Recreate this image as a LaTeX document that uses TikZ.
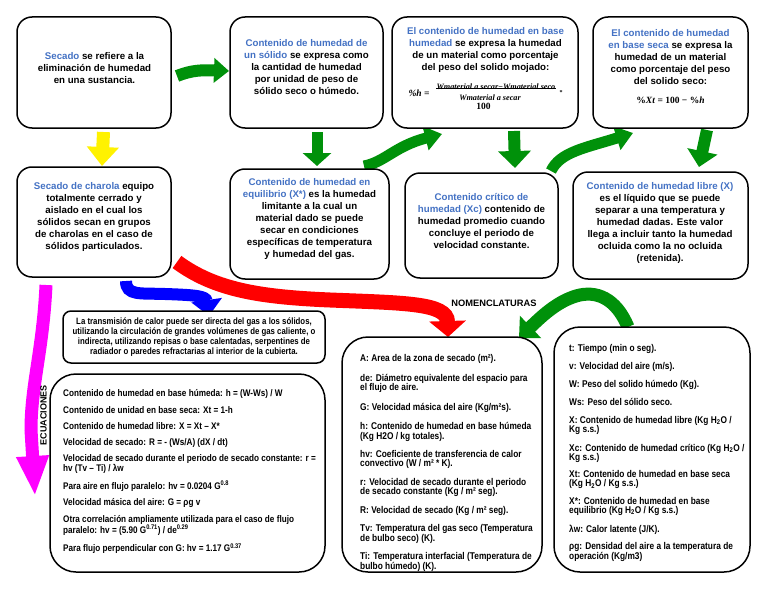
\documentclass[tikz,border=0pt]{standalone}
\usepackage{fontspec}
\setmainfont{Liberation Sans}
\newfontfamily\narrowfont[FakeStretch=0.85]{Liberation Sans}
\newfontfamily\fmfont{Liberation Serif}
\usetikzlibrary{arrows.meta}
\definecolor{tblue}{RGB}{68,114,196}
\definecolor{agreen}{RGB}{0,145,10}
\definecolor{amag}{RGB}{255,0,255}
\newcommand\bluetx[1]{\textcolor{tblue}{#1}}
\begin{document}
\begin{tikzpicture}[x=1pt,y=-1pt,
  box/.style={draw=black, line width=1.5pt, rounded corners=15pt, fill=white, inner sep=0pt},
  bigbox/.style={box, rounded corners=26pt},
  btxt/.style={font=\fontsize{9.7}{12}\selectfont\bfseries, align=center, inner sep=0pt},
  eqtxt/.style={font=\narrowfont\bfseries\fontsize{9.6}{9.2}\selectfont, align=left, inner sep=0pt, anchor=north west},
  ntxt/.style={font=\narrowfont\bfseries\fontsize{9.8}{9.2}\selectfont, align=left, inner sep=0pt, anchor=north west},
  fmtxt/.style={font=\fmfont\bfseries\itshape\fontsize{8.2}{9}\selectfont, inner sep=0pt},
  tipA/.style={-{Triangle[length=#1,width=2*#1,line width=0.1pt]}}
]
\useasboundingbox (0,0) rectangle (768,594);
\fill[white] (0,0) rectangle (768,594);

% ---------- arrows ----------
\draw[agreen, line width=12pt, -{Triangle[length=15pt,width=24pt]}] (177,76) .. controls (192,70) and (202,70) .. (229,71);
\draw[yellow, line width=13pt, -{Triangle[length=19pt,width=31pt]}] (103.5,132) -- (102,166);
\draw[agreen, line width=11pt, -{Triangle[length=13pt,width=28pt]}] (317,132) -- (317,166);
\draw[agreen, line width=11pt, -{Triangle[length=17pt,width=24pt]}] (364,166) .. controls (385,162) and (395,146) .. (442,134);
\draw[agreen, line width=12pt, -{Triangle[length=17pt,width=32pt]}] (514,131) -- (515,168);
\draw[agreen, line width=11pt, -{Triangle[length=17pt,width=24pt]}] (551,171) .. controls (560,152) and (585,148) .. (633,133);
\draw[agreen, line width=12pt, -{Triangle[length=16pt,width=30pt]}] (707,130) -- (699,167);
\draw[red, line width=15pt, -{Triangle[length=16pt,width=36pt]}] (177,262) .. controls (215,290) and (260,297) .. (330,300) .. controls (405,303) and (447,303) .. (448,337);
\draw[blue, line width=12pt, -{Triangle[length=16pt,width=30pt]}] (126,281) .. controls (126,296) and (140,293) .. (165,294) .. controls (195,295) and (206,296) .. (209,316);
\draw[amag, line width=13pt, -{Triangle[length=40pt,width=30pt]}] (46,285) .. controls (43,350) and (31,385) .. (31,430) -- (35,496);
\draw[agreen, line width=13pt, -{Triangle[length=16pt,width=30pt]}] (628,327) .. controls (616,298) and (596,290) .. (576,296) .. controls (556,302) and (540,318) .. (519,338);

% ---------- top row ----------
\node[box, minimum width=154pt, minimum height=111pt] (b1) at (94,72.5) {};
\node[btxt] (t1) at (94.5,68) {\bluetx{Secado} se refiere a la\\eliminación de humedad\\en una sustancia.};

\node[box, minimum width=153pt, minimum height=111pt] (b2) at (306.5,72.5) {};
\node[btxt] (t2) at (306.5,67) {\bluetx{Contenido de humedad de}\\\bluetx{un sólido} se expresa como\\la cantidad de humedad\\por unidad de peso de\\sólido seco o húmedo.};

\node[box, minimum width=186pt, minimum height=111pt] (b3) at (485,72.5) {};
\node[btxt] (t3) at (485.5,49.5) {\bluetx{El contenido de humedad en base}\\\bluetx{humedad} se expresa la humedad\\de un material como porcentaje\\del peso del solido mojado:};
\node[inner sep=0pt, font=\fmfont\bfseries\itshape\fontsize{9.5}{10}\selectfont] (f3a) at (419,93) {\%h =};
\node[fmtxt] (f3n) at (496,86.5) {Wmaterial a secar−Wmaterial seco};
\node[fmtxt] (f3d) at (490,97.5) {Wmaterial a secar};
\draw[line width=0.6pt] (f3n.south west) ++(0,-1.8) coordinate (barL) -- (f3n.south east |- barL);
\node[inner sep=0pt, font=\fmfont\bfseries\fontsize{6}{7}\selectfont] (f3s) at (561,92.5) {*};
\node[inner sep=0pt, font=\fmfont\bfseries\fontsize{9.5}{10}\selectfont] (f3c) at (483.5,106) {100};

\node[box, minimum width=155pt, minimum height=111pt] (b4) at (670.5,72.5) {};
\node[btxt] (t4) at (670.5,57.5) {\bluetx{El contenido de humedad}\\\bluetx{en base seca} se expresa la\\humedad de un material\\como porcentaje del peso\\del solido seco:};
\node[inner sep=0pt, font=\fmfont\bfseries\fontsize{9.5}{10}\selectfont] (f4) at (670.5,100) {\%\textit{Xt} = 100 − \%\textit{h}};

% ---------- middle row ----------
\node[box, minimum width=154pt, minimum height=110pt] (b5) at (94,222) {};
\node[btxt] (t5) at (94,217) {\bluetx{Secado de charola} equipo\\totalmente cerrado y\\aislado en el cual los\\sólidos secan en grupos\\de charolas en el caso de\\sólidos particulados.};

\node[box, minimum width=159pt, minimum height=110pt] (b6) at (309.5,224) {};
\node[btxt] (t6) at (309.5,219.5) {\bluetx{Contenido de humedad en}\\\bluetx{equilibrio (X*)} es la humedad\\limitante a la cual un\\material dado se puede\\secar en condiciones\\específicas de temperatura\\y humedad del gas.};

\node[box, minimum width=153pt, minimum height=105pt] (b7) at (481.5,225.5) {};
\node[btxt] (t7) at (481.5,220.5) {\bluetx{Contenido crítico de}\\\bluetx{humedad (Xc)} contenido de\\humedad promedio cuando\\concluye el periodo de\\velocidad constante.};

\node[box, minimum width=175pt, minimum height=107pt] (b8) at (660.5,225.5) {};
\node[btxt] (t8) at (660,222.5) {\bluetx{Contenido de humedad libre (X)}\\es el líquido que se puede\\separar a una temperatura y\\humedad dadas. Este valor\\llega a incluir tanto la humedad\\ocluida como la no ocluida\\(retenida).};

% ---------- transmission ----------
\node[box, rounded corners=8pt, minimum width=262pt, minimum height=52pt] (bt) at (194,337) {};
\node[inner sep=0pt, align=center, font=\narrowfont\bfseries\fontsize{9.2}{10}\selectfont] (tt) at (194,337) {La transmisión de calor puede ser directa del gas a los sólidos,\\utilizando la circulación de grandes volúmenes de gas caliente, o\\indirecta, utilizando repisas o base calentadas, serpentines de\\radiador o paredes refractarias al interior de la cubierta.};

% ---------- equations ----------
\node[bigbox, minimum width=275pt, minimum height=198pt] (be) at (187.5,473) {};
\node[eqtxt] (te) at (63,389.5) {Contenido de humedad en base húmeda: h = (W-Ws) / W\\[7.1pt]
Contenido de unidad en base seca: Xt = 1-h\\[7.1pt]
Contenido de humedad libre: X = Xt – X*\\[7.1pt]
Velocidad de secado: R = - (Ws/A) (dX / dt)\\[7.1pt]
Velocidad de secado durante el periodo de secado constante: r =\\
hv (Tv – Ti) / λw\\[7.1pt]
Para aire en flujo paralelo: hv = 0.0204 G\textsuperscript{0.8}\\[7.1pt]
Velocidad másica del aire: G = ρg v\\[7.1pt]
Otra correlación ampliamente utilizada para el caso de flujo\\
paralelo: hv = (5.90 G\textsuperscript{0.71}) / de\textsuperscript{0.29}\\[7.1pt]
Para flujo perpendicular con G: hv = 1.17 G\textsuperscript{0.37}};
\node[rotate=90, inner sep=0pt, font=\bfseries\fontsize{9}{10}\selectfont] (ect) at (43.5,415) {ECUACIONES};

% ---------- nomenclature ----------
\node[inner sep=0pt, font=\bfseries\fontsize{9.3}{10}\selectfont] (nomt) at (494,303) {NOMENCLATURAS};

\node[bigbox, minimum width=200pt, minimum height=235pt] (bn1) at (442,454.5) {};
\node[ntxt] (n1) at (360,354.4) {A: Area de la zona de secado (m²).\\[9.4pt]
de: Diámetro equivalente del espacio para\\el flujo de aire.\\[9.4pt]
G: Velocidad másica del aire (Kg/m²s).\\[9.4pt]
h: Contenido de humedad en base húmeda\\(Kg H2O / kg totales).\\[9.4pt]
hv: Coeficiente de transferencia de calor\\convectivo (W / m² * K).\\[9.4pt]
r: Velocidad de secado durante el periodo\\de secado constante (Kg / m² seg).\\[9.4pt]
R: Velocidad de secado (Kg / m² seg).\\[9.4pt]
Tv: Temperatura del gas seco (Temperatura\\de bulbo seco) (K).\\[9.4pt]
Ti: Temperatura interfacial (Temperatura de\\bulbo húmedo) (K).};

\node[bigbox, minimum width=196pt, minimum height=245pt] (bn2) at (652,449.5) {};
\node[ntxt] (n2) at (569,344.4) {t: Tiempo (min o seg).\\[8.2pt]
v: Velocidad del aire (m/s).\\[8.2pt]
W: Peso del solido húmedo (Kg).\\[8.2pt]
Ws: Peso del sólido seco.\\[8.2pt]
X: Contenido de humedad libre (Kg H\textsubscript{2}O /\\Kg s.s.)\\[8.2pt]
Xc: Contenido de humedad crítico (Kg H\textsubscript{2}O /\\Kg s.s.)\\[8.2pt]
Xt: Contenido de humedad en base seca\\(Kg H\textsubscript{2}O / Kg s.s.)\\[8.2pt]
X*: Contenido de humedad en base\\equilibrio (Kg H\textsubscript{2}O / Kg s.s.)\\[8.2pt]
λw: Calor latente (J/K).\\[8.2pt]
ρg: Densidad del aire a la temperatura de\\operación (Kg/m3)};
\end{tikzpicture}
\end{document}
